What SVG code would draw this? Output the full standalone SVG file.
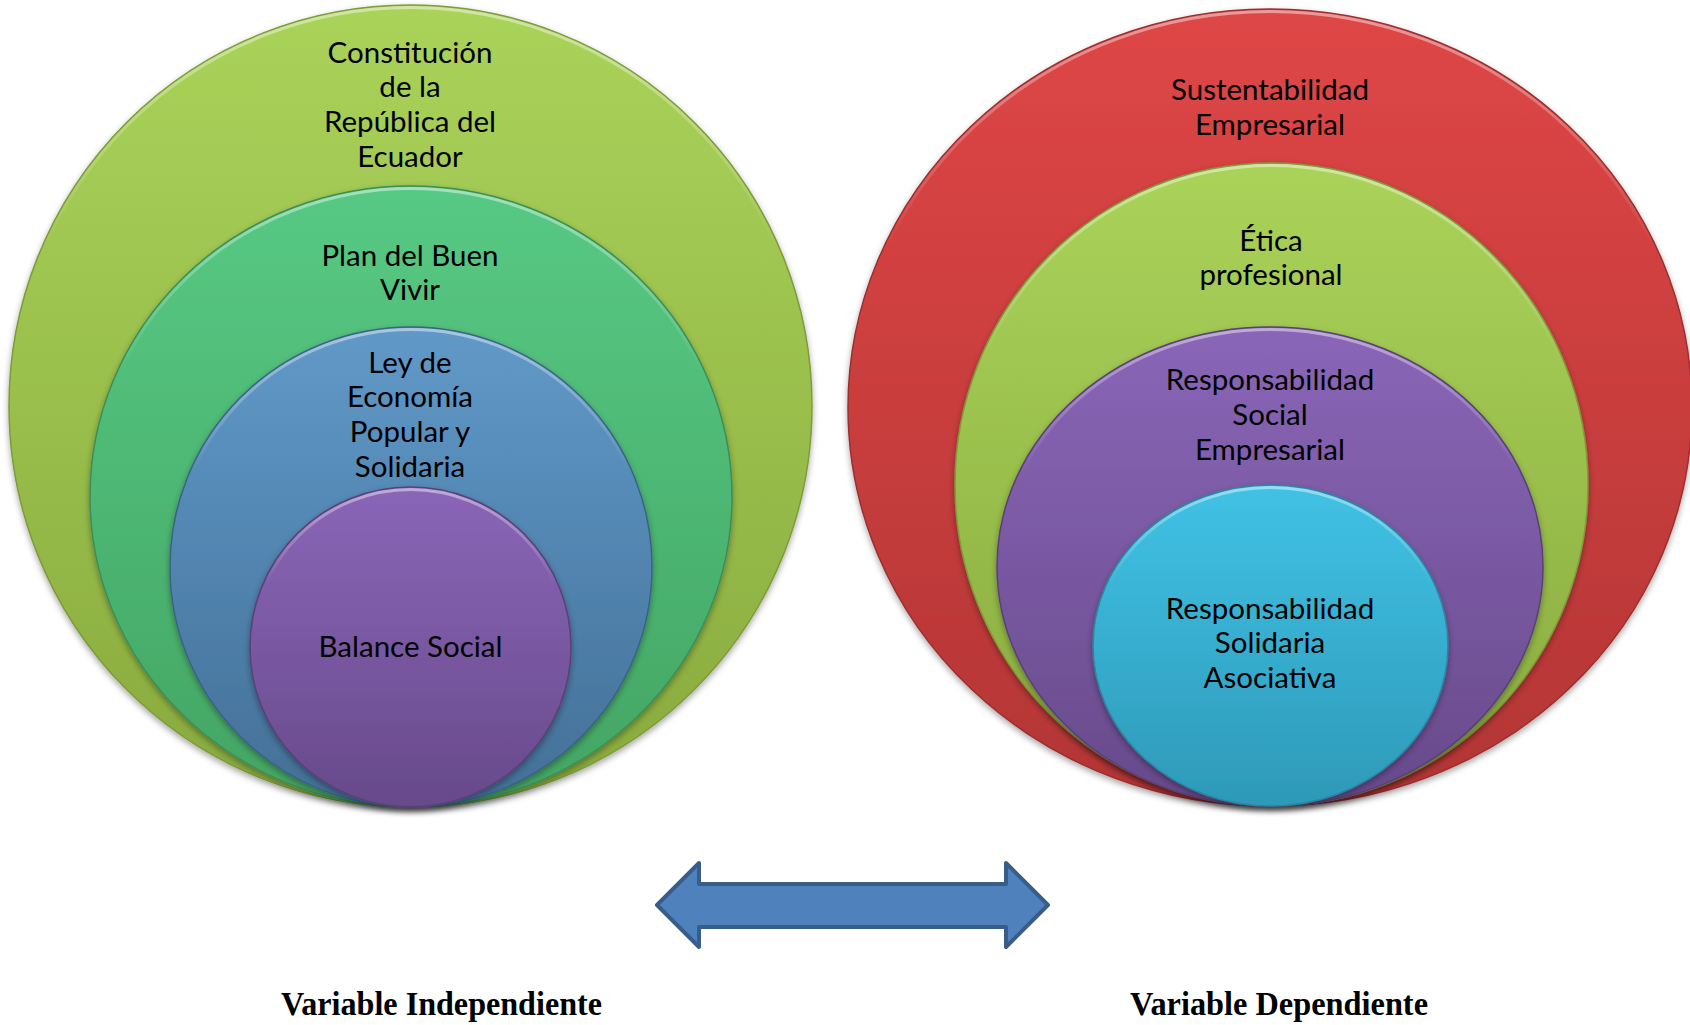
<svg xmlns="http://www.w3.org/2000/svg" width="1690" height="1025" viewBox="0 0 1690 1025">
<style>
.lbl{font-family:Lato,"Open Sans","Liberation Sans",sans-serif;font-size:29.5px;fill:#000;text-anchor:middle}
.cap{font-family:"Liberation Serif","Times New Roman",serif;font-size:33px;font-weight:bold;fill:#000;text-anchor:middle}
.sh{filter:url(#shadow)}
.bev{fill:none;stroke:url(#gBevel);stroke-width:3}
</style>
<defs>
<filter id="shadow" x="-10%" y="-10%" width="120%" height="125%">
<feDropShadow dx="0" dy="3" stdDeviation="3" flood-color="#000" flood-opacity="0.35"/>
</filter>
<linearGradient id="gBevel" x1="0" y1="0" x2="0" y2="1"><stop offset="0" stop-color="#fff" stop-opacity="0.45"/><stop offset="0.3" stop-color="#fff" stop-opacity="0"/></linearGradient>
<linearGradient id="gLime" x1="0" y1="0" x2="0" y2="1"><stop offset="0" stop-color="#aad35a"/><stop offset="1" stop-color="#89aa3e"/></linearGradient>
<linearGradient id="gGreen" x1="0" y1="0" x2="0" y2="1"><stop offset="0" stop-color="#57c984"/><stop offset="1" stop-color="#43a563"/></linearGradient>
<linearGradient id="gBlue" x1="0" y1="0" x2="0" y2="1"><stop offset="0" stop-color="#6099c8"/><stop offset="1" stop-color="#436f96"/></linearGradient>
<linearGradient id="gPurple" x1="0" y1="0" x2="0" y2="1"><stop offset="0" stop-color="#8a66b8"/><stop offset="1" stop-color="#674a8a"/></linearGradient>
<linearGradient id="gRed" x1="0" y1="0" x2="0" y2="1"><stop offset="0" stop-color="#df4646"/><stop offset="1" stop-color="#b33535"/></linearGradient>
<linearGradient id="gCyan" x1="0" y1="0" x2="0" y2="1"><stop offset="0" stop-color="#40c2e5"/><stop offset="1" stop-color="#2e99b8"/></linearGradient>
</defs>
<rect width="1690" height="1025" fill="#fff"/>

<g id="left-constitucion">
<ellipse class="sh" cx="410.5" cy="406" rx="401.5" ry="401" fill="url(#gLime)" stroke="#7e9c3a" stroke-width="1.5"/>
<ellipse class="bev" cx="410.5" cy="406" rx="399" ry="398.5"/>
<text class="lbl"><tspan x="410" y="63">Constitución</tspan><tspan x="410" y="97">de la</tspan><tspan x="410" y="132">República del</tspan><tspan x="410" y="167">Ecuador</tspan></text>
</g>
<g id="left-buen-vivir">
<ellipse class="sh" cx="411" cy="496.5" rx="321" ry="310.5" fill="url(#gGreen)" stroke="#3b8f57" stroke-width="1.5"/>
<ellipse class="bev" cx="411" cy="496.5" rx="318.5" ry="308"/>
<text class="lbl"><tspan x="410" y="266">Plan del Buen</tspan><tspan x="410" y="300">Vivir</tspan></text>
</g>
<g id="left-ley">
<ellipse class="sh" cx="411" cy="567" rx="241" ry="240" fill="url(#gBlue)" stroke="#3b6386" stroke-width="1.5"/>
<ellipse class="bev" cx="411" cy="567" rx="238.5" ry="237.5"/>
<text class="lbl"><tspan x="410" y="373">Ley de</tspan><tspan x="410" y="407">Economía</tspan><tspan x="410" y="442">Popular y</tspan><tspan x="410" y="477">Solidaria</tspan></text>
</g>
<g id="left-balance">
<ellipse class="sh" cx="410.5" cy="647" rx="160.5" ry="160" fill="url(#gPurple)" stroke="#5a4079" stroke-width="1.5"/>
<ellipse class="bev" cx="410.5" cy="647" rx="158" ry="157.5"/>
<text class="lbl" x="410.5" y="657">Balance Social</text>
</g>

<g id="right-sustentabilidad">
<ellipse class="sh" cx="1270" cy="407.5" rx="422" ry="398.5" fill="url(#gRed)" stroke="#9c2f2f" stroke-width="1.5"/>
<ellipse class="bev" cx="1270" cy="407.5" rx="419.5" ry="396"/>
<text class="lbl"><tspan x="1270" y="100">Sustentabilidad</tspan><tspan x="1270" y="135">Empresarial</tspan></text>
</g>
<g id="right-etica">
<ellipse class="sh" cx="1271.5" cy="484.5" rx="316.5" ry="321.5" fill="url(#gLime)" stroke="#7e9c3a" stroke-width="1.5"/>
<ellipse class="bev" cx="1271.5" cy="484.5" rx="314" ry="319"/>
<text class="lbl"><tspan x="1271" y="251">Ética</tspan><tspan x="1271" y="285">profesional</tspan></text>
</g>
<g id="right-rse">
<ellipse class="sh" cx="1270" cy="566.5" rx="273" ry="239.5" fill="url(#gPurple)" stroke="#5a4079" stroke-width="1.5"/>
<ellipse class="bev" cx="1270" cy="566.5" rx="270.5" ry="237"/>
<text class="lbl"><tspan x="1270" y="390">Responsabilidad</tspan><tspan x="1270" y="425">Social</tspan><tspan x="1270" y="460">Empresarial</tspan></text>
</g>
<g id="right-rsa">
<ellipse class="sh" cx="1270.5" cy="645.5" rx="177.5" ry="160.5" fill="url(#gCyan)" stroke="#2a86a1" stroke-width="1.5"/>
<ellipse class="bev" cx="1270.5" cy="645.5" rx="175" ry="158"/>
<text class="lbl"><tspan x="1270" y="619">Responsabilidad</tspan><tspan x="1270" y="653">Solidaria</tspan><tspan x="1270" y="688">Asociativa</tspan></text>
</g>

<g id="connectors">
<polygon points="657,905 699,863 699,884 1006,884 1006,863 1048,905 1006,947 1006,927 699,927 699,947" fill="#4f81bd" stroke="#385d8a" stroke-width="4" stroke-linejoin="round"/>
</g>

<g id="captions">
<text class="cap" x="441.5" y="1015" textLength="321" lengthAdjust="spacingAndGlyphs">Variable Independiente</text>
<text class="cap" x="1279" y="1015" textLength="298" lengthAdjust="spacingAndGlyphs">Variable Dependiente</text>
</g>
</svg>
